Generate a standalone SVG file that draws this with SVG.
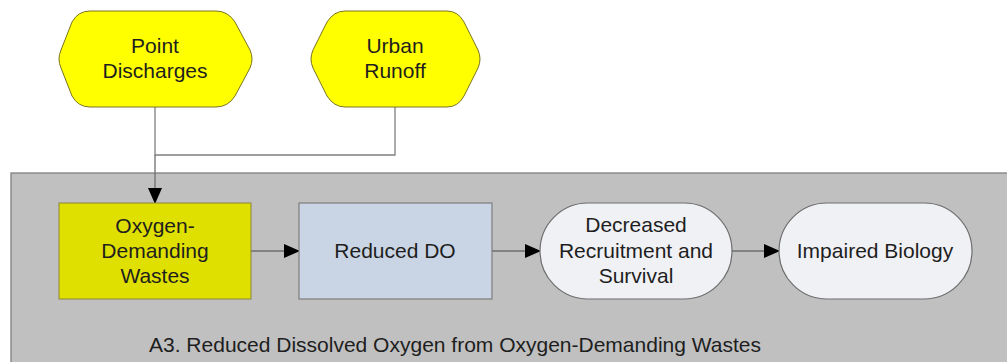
<svg xmlns="http://www.w3.org/2000/svg" width="1007" height="362" viewBox="0 0 1007 362">
<style>
text{font-family:"Liberation Sans",Arial,sans-serif;font-size:21px;fill:#1e1e1e;text-anchor:middle}
.hex{fill:#ffff00;stroke:#7a7420;stroke-width:1}
.wire{fill:none;stroke:#7f7f7f;stroke-width:1.3}
.arr{fill:none;stroke:#6e6e6e;stroke-width:1.3;marker-end:url(#ah)}
</style>
<defs>
<marker id="ah" markerWidth="16" markerHeight="14" refX="15" refY="7" orient="auto" markerUnits="userSpaceOnUse">
<path d="M0,0 L16,7 L0,14 Z" fill="#000"/>
</marker>
</defs>
<rect x="11" y="173" width="1010" height="200" fill="#c0c0c0" stroke="#808080" stroke-width="1.3"/>
<g id="connectors">
<path class="wire" d="M155,107 V155 H395 V107"/>
<path class="arr" d="M155,155 V203"/>
<path class="arr" d="M251,251 H299"/>
<path class="arr" d="M492,251 H540"/>
<path class="arr" d="M732,251 H779"/>
</g>
<g id="point-discharges">
<path class="hex" d="M90,11 H216 Q228,11 235,22 L250,50 Q254,59 250,68 L235,96 Q228,107 216,107 H90 Q78,107 72,96 L61,68 Q57,59 61,50 L72,22 Q78,11 90,11 Z"/>
<text x="155" y="53">Point</text>
<text x="155" y="78">Discharges</text>
</g>
<g id="urban-runoff">
<path class="hex" d="M345,11 H447 Q458,11 464,22 L478,50 Q482,59 478,68 L464,96 Q458,107 447,107 H345 Q334,107 327,96 L313,68 Q309,59 313,50 L327,22 Q334,11 345,11 Z"/>
<text x="395" y="53">Urban</text>
<text x="395" y="78">Runoff</text>
</g>
<g id="oxygen-demanding-wastes">
<rect x="59" y="203" width="192" height="96" fill="#e0e000" stroke="#8a8440" stroke-width="1"/>
<text x="155" y="233">Oxygen-</text>
<text x="155" y="258">Demanding</text>
<text x="155" y="283">Wastes</text>
</g>
<g id="reduced-do">
<rect x="299" y="203" width="193" height="96" fill="#c9d5e4" stroke="#7e7e7e" stroke-width="1.2"/>
<text x="395" y="258">Reduced DO</text>
</g>
<g id="decreased-recruitment">
<rect x="540" y="203" width="192" height="96" rx="48" ry="48" fill="#f0f1f5" stroke="#6e6e6e" stroke-width="1.2"/>
<text x="636" y="232">Decreased</text>
<text x="636" y="258">Recruitment and</text>
<text x="636" y="283">Survival</text>
</g>
<g id="impaired-biology">
<rect x="779" y="203" width="193" height="96" rx="48" ry="48" fill="#f0f1f5" stroke="#6e6e6e" stroke-width="1.2"/>
<text x="875" y="258">Impaired Biology</text>
</g>
<text x="455" y="352">A3. Reduced Dissolved Oxygen from Oxygen-Demanding Wastes</text>
</svg>
